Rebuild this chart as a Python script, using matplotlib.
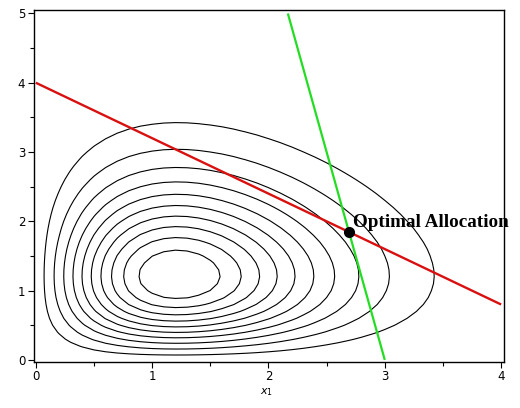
import numpy as np
import matplotlib
matplotlib.use("Agg")
import matplotlib.pyplot as plt

# ---- data ----
# contour surface: Gaussian in power-transformed coordinates
power_exp = 0.57
center_x = 1.214
center_y = 1.214
spread_sq = 0.18
level_floor = 0.016
n_levels = 10

# budget (red) line: 4x + 5y = 20 ; green line: 6x + y = 18
red_x = [0, 4]
red_y = [4.0, 0.8]
green_x = [3.0, 2.1667]
green_y = [0.0, 5.0]
opt_point = (2.692, 1.846)
opt_label = "Optimal Allocation"
label_pos = (2.73, 1.92)

x_ticks = [0, 1, 2, 3, 4]
y_ticks = [0, 1, 2, 3, 4, 5]

# ---- figure ----
fig = plt.figure(figsize=(5.2, 4.08), dpi=100)
ax = fig.add_axes([33.5 / 520, 1 - 362 / 408, (504 - 33.5) / 520, (362 - 10) / 408])

gx = np.linspace(0, 4, 41)
gy = np.linspace(0, 5, 51)
X, Y = np.meshgrid(gx, gy)
U = X ** power_exp
V = Y ** power_exp
uc = center_x ** power_exp
vc = center_y ** power_exp
Z = np.exp(-((U - uc) ** 2 + (V - vc) ** 2) / (2 * spread_sq))
step = (1.0 - level_floor) / (n_levels + 1)
levels = [level_floor + i * step for i in range(1, n_levels + 1)]
ax.contour(X, Y, Z, levels=levels, colors="black", linewidths=0.8)

ax.plot(red_x, red_y, color="#d81010", lw=1.7, solid_capstyle="butt")
ax.plot(green_x, green_y, color="#22dd22", lw=1.6, solid_capstyle="butt")
ax.plot([opt_point[0]], [opt_point[1]], "o", color="black", ms=7, zorder=5)
ax.text(label_pos[0], label_pos[1], opt_label,
        fontfamily="Liberation Serif", fontweight="bold", fontsize=13.8,
        ha="left", va="baseline", zorder=6, clip_on=False)

ax.set_xlim(-0.02, 4.025)
ax.set_ylim(-0.03, 5.05)
ax.set_xticks(x_ticks)
ax.set_yticks(y_ticks)
ax.set_xticks(np.arange(0.5, 4, 1), minor=True)
ax.set_yticks(np.arange(0.5, 5, 1), minor=True)
ax.tick_params(which="major", direction="out", length=4, width=0.8,
               labelsize=8.5, pad=2)
ax.tick_params(which="minor", direction="out", length=3, width=0.8)
for s in ax.spines.values():
    s.set_linewidth(1.0)

fig.text(267 / 520, 1 - 392 / 408, r"$x_1$", fontsize=8, ha="center", va="center")

fig.savefig("out.png", dpi=100)
